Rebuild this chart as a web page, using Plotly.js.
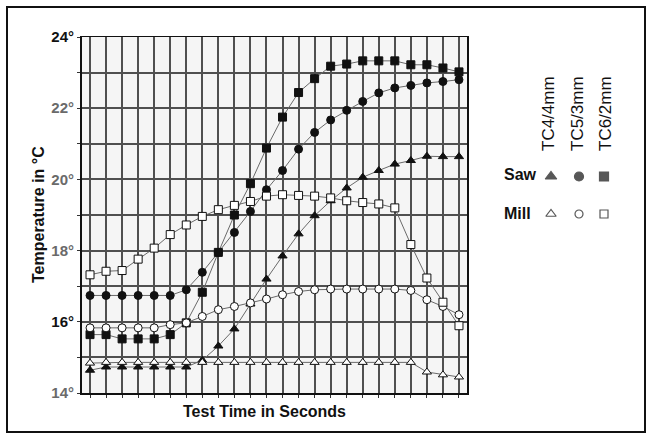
<!DOCTYPE html>
<html>
<head>
<meta charset="utf-8">
<script src="https://cdn.plot.ly/plotly-3.0.1.min.js"></script>
<style>
html,body{margin:0;padding:0;background:#fff;}
#chart{width:654px;height:436px;position:relative;}
#frame{position:absolute;left:6px;top:6px;width:640px;height:427px;border:2px solid #111;box-sizing:border-box;pointer-events:none;}
</style>
</head>
<body>
<div id="chart"></div>
<div id="frame"></div>
<script>
// Time steps (grid positions along the Test Time axis)
const timeSteps = [0,1,2,3,4,5,6,7,8,9,10,11,12,13,14,15,16,17,18,19,20,21,22,23];

// Saw (filled markers)
const sawTC4 = [14.64,14.73,14.73,14.73,14.73,14.73,14.73,14.92,15.32,15.80,16.50,17.20,17.85,18.47,18.98,19.40,19.76,20.06,20.25,20.43,20.53,20.65,20.64,20.64];
const sawTC5 = [16.74,16.74,16.74,16.74,16.74,16.74,16.90,17.39,17.95,18.51,19.10,19.71,20.25,20.85,21.32,21.67,21.94,22.19,22.43,22.57,22.64,22.71,22.75,22.80];
const sawTC6 = [15.64,15.64,15.52,15.52,15.52,15.64,15.97,16.83,17.95,19.00,19.88,20.88,21.75,22.44,22.83,23.18,23.24,23.33,23.33,23.33,23.22,23.22,23.13,23.02];

// Mill (open markers)
const millTC4 = [14.84,14.86,14.86,14.86,14.86,14.86,14.86,14.86,14.86,14.86,14.86,14.86,14.86,14.86,14.86,14.86,14.86,14.86,14.86,14.86,14.86,14.59,14.51,14.45];
const millTC5 = [15.83,15.83,15.83,15.83,15.83,15.92,15.97,16.15,16.34,16.43,16.53,16.64,16.76,16.85,16.90,16.92,16.92,16.92,16.92,16.92,16.88,16.62,16.43,16.20];
const millTC6 = [17.32,17.42,17.44,17.76,18.07,18.45,18.72,18.96,19.15,19.27,19.38,19.53,19.57,19.55,19.53,19.48,19.40,19.35,19.31,19.20,18.17,17.23,16.55,15.89];

// Axis tick labels
const yTickVals = [14,15,16,17,18,19,20,21,22,23,24];
const yTickText = ['<b><span style="color:#6a6a6a">14°</span></b>','','<b>16°</b>','','<b><span style="color:#6a6a6a">18°</span></b>','','<b><span style="color:#6a6a6a">20°</span></b>','','<b><span style="color:#6a6a6a">22°</span></b>','','<b>24°</b>'];

// Legend
const legendColumns = ['TC4/4mm','TC5/3mm','TC6/2mm'];
const legendRows = ['Saw','Mill'];

const lineCol = '#6a6a6a';
function series(y, symbol, fill, size){
  return {x: timeSteps, y: y, type:'scatter', mode:'lines+markers', xaxis:'x', yaxis:'y',
    line:{color:lineCol, width:1},
    marker:{symbol:symbol, size:size, color:fill, line:{color:'#111', width:1}},
    cliponaxis:false, showlegend:false, hoverinfo:'skip'};
}

const traces = [
  series(sawTC4,'triangle-up','#111',8),
  series(sawTC5,'circle','#111',8),
  series(sawTC6,'square','#111',8),
  series(millTC4,'triangle-up','#fff',8),
  series(millTC5,'circle','#fff',8),
  series(millTC6,'square','#fff',8)
];

// Legend symbols drawn on a hidden helper axis (pixel-like coordinates)
const legX = [551,579,604];
const legY = [176.5,214];
const syms = ['triangle-up','circle','square'];
for (let r=0;r<2;r++){
  traces.push({x:legX, y:[legY[r],legY[r],legY[r]], type:'scatter', mode:'markers', xaxis:'x2', yaxis:'y2',
    marker:{symbol:syms, size:r===0?[10,9,9]:[9,8,8], color:r===0?'#111':'#fff', line:{color:'#111', width:1.2}},
    showlegend:false, hoverinfo:'skip', cliponaxis:false});
}

const W=654,H=436,L=82,R=8,T=37,B=43;
const pw=W-L-R, ph=H-T-B;
const px = v => (v-L)/pw;
const py = v => (H-B-v)/ph;

const annotations = [
  {text:'<b>Test Time in Seconds</b>', x:px(264), y:py(411), xref:'paper', yref:'paper', showarrow:false, xanchor:'center', yanchor:'middle', font:{size:16, color:'#111'}},
  {text:'<b>Temperature in °C</b>', x:px(38), y:py(215), xref:'paper', yref:'paper', showarrow:false, textangle:-90, xanchor:'center', yanchor:'middle', font:{size:16, color:'#111'}},
];
const tcX=[548.5,577.5,605.5];
legendColumns.forEach((t,i)=>annotations.push({text:t, x:px(tcX[i]), y:py(113.5), xref:'paper', yref:'paper', showarrow:false, textangle:-90, xanchor:'center', yanchor:'middle', font:{size:17, color:'#111'}}));
legendRows.forEach((t,i)=>annotations.push({text:'<b>'+t+'</b>', x:px(502), y:py([175,213][i]), xref:'paper', yref:'paper', showarrow:false, xanchor:'left', yanchor:'middle', font:{size:16, color:'#111'}}));

const layout = {
  width:W, height:H,
  margin:{l:L, r:R, t:T, b:B},
  paper_bgcolor:'#fff', plot_bgcolor:'rgba(0,0,0,0)',
  font:{family:'"Liberation Sans", Arial, Helvetica, sans-serif', color:'#111'},
  shapes:[{type:'rect', xref:'x domain', yref:'y domain', x0:0, x1:1, y0:0, y1:1, fillcolor:'#f5f5f5', line:{width:0}, layer:'below'}],
  xaxis:{domain:[0,(467-L)/pw], range:[-0.5,23.5], tickvals:timeSteps, ticktext:timeSteps.map(()=>''),
    showgrid:true, gridcolor:'#505050', gridwidth:2, zeroline:false,
    showline:true, mirror:true, linecolor:'#111', linewidth:1.5,
    ticks:'outside', ticklen:3, tickcolor:'#333', tickwidth:1, fixedrange:true},
  yaxis:{range:[14,24], tickvals:yTickVals, ticktext:yTickText,
    showgrid:true, gridcolor:'#505050', gridwidth:2, zeroline:false,
    showline:true, mirror:true, linecolor:'#111', linewidth:2,
    ticks:'outside', ticklen:3, tickcolor:'#333', tickwidth:1,
    tickfont:{size:15, color:'#111'}, fixedrange:true},
  xaxis2:{domain:[(476-L)/pw,1], range:[476, W-R], anchor:'y2', visible:false, showgrid:false, fixedrange:true},
  yaxis2:{domain:[0,1], range:[H-B, T], anchor:'x2', visible:false, showgrid:false, fixedrange:true},
  annotations:annotations
};

Plotly.newPlot('chart', traces, layout, {displayModeBar:false, staticPlot:true});
</script>
</body>
</html>
